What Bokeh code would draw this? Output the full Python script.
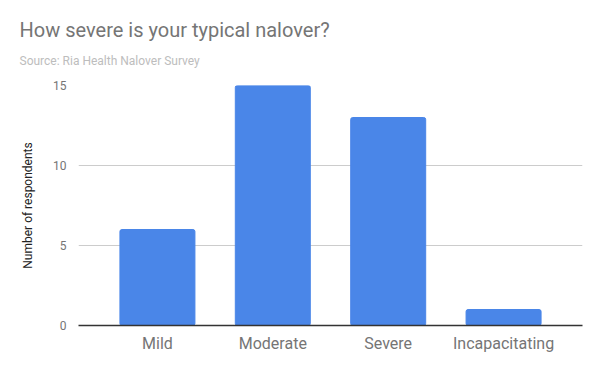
from bokeh.plotting import figure
from bokeh.models import Title, FactorRange, Range1d, FixedTicker
from bokeh.embed import file_html
from bokeh.resources import INLINE

categories = ["Mild", "Moderate", "Severe", "Incapacitating"]
respondents = [6, 15, 13, 1]
y_ticks = [0, 5, 10, 15]

FONT = "Roboto"

p = figure(
    x_range=FactorRange(*categories, range_padding=0.092, range_padding_units="percent"),
    y_range=Range1d(0, 15),
    width=592, height=363,
    output_backend="svg", toolbar_location=None,
    min_border_left=78, min_border_right=10, min_border_top=85, min_border_bottom=38,
    outline_line_color=None,
)

p.vbar(x=categories, top=respondents, width=0.65, color="#4a86e8",
       border_radius=2)

# titles (spacer first, closest to the frame)
p.add_layout(Title(text=" ", text_font=FONT, text_font_size="1px"), "above")
p.add_layout(Title(text="Source: Ria Health Nalover Survey", text_font=FONT,
                   text_font_size="12px", text_color="#bdbdbd",
                   text_font_style="normal", align="left", offset=-59), "above")
p.add_layout(Title(text="How severe is your typical nalover?", text_font=FONT,
                   text_font_size="20px", text_color="#757575",
                   text_font_style="normal", align="left", offset=-59,
                   text_line_height=0.7), "above")

# y axis
p.yaxis.ticker = FixedTicker(ticks=y_ticks)
p.yaxis.axis_line_color = None
p.yaxis.major_tick_line_color = None
p.yaxis.minor_tick_line_color = None
p.yaxis.major_label_text_font = FONT
p.yaxis.major_label_text_font_size = "12px"
p.yaxis.major_label_text_color = "#757575"
p.yaxis.major_label_standoff = 6
p.yaxis.axis_label = "Number of respondents"
p.yaxis.axis_label_text_font = FONT
p.yaxis.axis_label_text_font_size = "12px"
p.yaxis.axis_label_text_font_style = "normal"
p.yaxis.axis_label_text_color = "#222222"
p.yaxis.axis_label_standoff = 15

# x axis
p.xaxis.axis_line_color = "#333333"
p.xaxis.axis_line_width = 1.5
p.xaxis.major_tick_line_color = None
p.xaxis.minor_tick_line_color = None
p.xaxis.major_label_text_font = FONT
p.xaxis.major_label_text_font_size = "16px"
p.xaxis.major_label_text_color = "#757575"
p.xaxis.major_label_standoff = 2

p.xgrid.grid_line_color = None
p.ygrid.grid_line_color = "#cccccc"
p.ygrid.ticker = FixedTicker(ticks=y_ticks)

open("out.html", "w").write(file_html(p, INLINE))
